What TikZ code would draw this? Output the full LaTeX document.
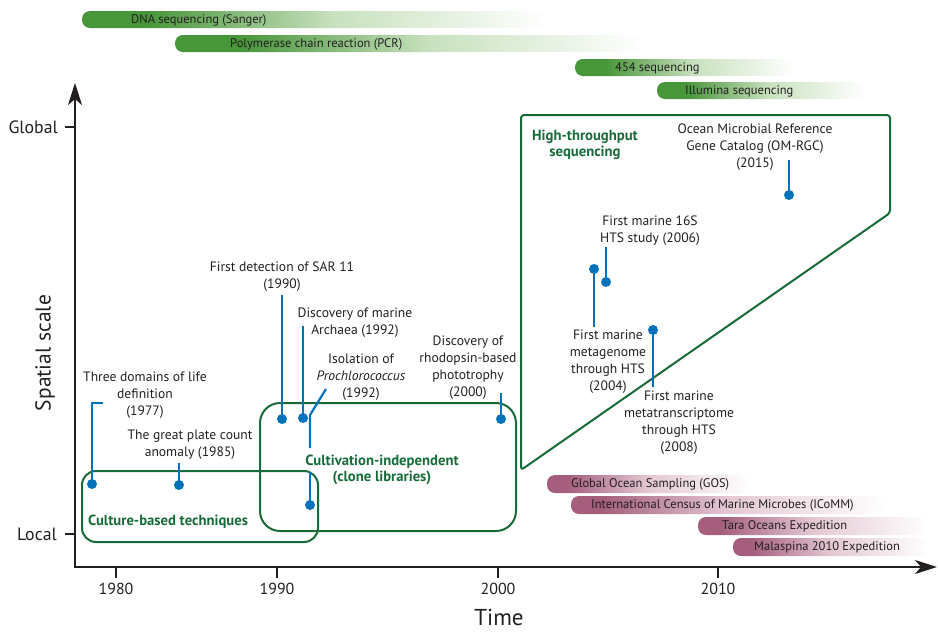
\documentclass[tikz,border=0pt]{standalone}
\usepackage{fontspec}
\setmainfont{PT Sans}
\usetikzlibrary{arrows.meta}
\definecolor{axisc}{RGB}{35,31,32}
\definecolor{dotblue}{RGB}{0,114,188}
\definecolor{boxgreen}{RGB}{22,107,56}
\definecolor{barg}{RGB}{72,150,58}
\definecolor{barglight}{RGB}{200,225,190}
\definecolor{barm}{RGB}{165,95,125}
\definecolor{barmlight}{RGB}{228,200,212}
\pgfdeclarehorizontalshading{gfade}{100bp}{color(0bp)=(barg); color(25bp)=(barg); color(32bp)=(barg); color(52bp)=(barglight); color(75bp)=(white); color(100bp)=(white)}
\pgfdeclarehorizontalshading{mfade}{100bp}{color(0bp)=(barm); color(25bp)=(barm); color(30bp)=(barm); color(50bp)=(barmlight); color(75bp)=(white); color(100bp)=(white)}
\begin{document}
\begin{tikzpicture}[x=1pt,y=-1pt,
  axisline/.style={draw=axisc, line width=2pt},
  ticklbl/.style={font=\fontsize{16}{18}\selectfont, text=axisc, inner sep=0pt},
  ann/.style={font=\fontsize{13.6}{17}\selectfont, align=center, inner sep=0pt, text=axisc},
  grp/.style={draw=boxgreen, line width=2pt},
  grplbl/.style={font=\fontsize{14.7}{16.5}\selectfont\bfseries, text=boxgreen, align=center, inner sep=0pt},
  stem/.style={draw=dotblue, line width=2.2pt},
  dot/.style={circle, fill=dotblue, inner sep=0pt, minimum size=10pt},
  bartext/.style={font=\fontsize{12.5}{13}\selectfont, text=axisc, inner sep=0pt, anchor=west},
  gbar/.style={shading=gfade, rounded corners=8pt},
  mbar/.style={shading=mfade, rounded corners=8pt}]
\useasboundingbox (0,0) rectangle (938,633);

% ---- top technology bars ----
\shade[gbar] (82,11) rectangle (548,28);
\node[bartext] (dna) at (131,20) {DNA sequencing (Sanger)};
\shade[gbar] (175,35) rectangle (645,52);
\node[bartext] (pcr) at (230,44) {Polymerase chain reaction (PCR)};
\shade[gbar] (575,59) rectangle (795,76);
\node[bartext] (s454) at (615,68) {454 sequencing};
\shade[gbar] (657,82) rectangle (865,99);
\node[bartext] (illu) at (685,91) {Illumina sequencing};

% ---- bottom expedition bars ----
\shade[mbar] (547,475) rectangle (750,493);
\node[bartext] (gos) at (571,484) {Global Ocean Sampling (GOS)};
\shade[mbar] (571,496) rectangle (885,514);
\node[bartext] (icomm) at (591,505) {International Census of Marine Microbes (ICoMM)};
\shade[mbar] (698,517) rectangle (928,535);
\node[bartext] (tara) at (722,526) {Tara Oceans Expedition};
\shade[mbar] (733,538) rectangle (928,556);
\node[bartext] (mala) at (754,547) {Malaspina 2010 Expedition};

% ---- axes ----
\coordinate (ytip) at (75,83);
\coordinate (origin) at (75,567);
\coordinate (xtip) at (937,567);
\draw[axisline, {Stealth[length=22pt,width=14pt,inset=6pt]}-{Stealth[length=22pt,width=14pt,inset=6pt]}] (ytip) -- (origin) -- (xtip);
\coordinate (gt) at (65,127);
\coordinate (gt2) at (75,127);
\draw[axisline] (gt) -- (gt2);
\node[font=\fontsize{17.8}{20}\selectfont, text=axisc, anchor=east, inner sep=0pt] (global) at (58,127) {Global};
\coordinate (lt) at (65,534);
\coordinate (lt2) at (75,534);
\draw[axisline] (lt) -- (lt2);
\node[font=\fontsize{17.8}{20}\selectfont, text=axisc, anchor=east, inner sep=0pt] (local) at (57,534) {Local};
\node[font=\fontsize{21.5}{24}\selectfont, text=axisc, rotate=90, inner sep=0pt] (spatial) at (45,353) {Spatial scale};
\node[font=\fontsize{23}{25}\selectfont, text=axisc, inner sep=0pt] (time) at (499,617) {Time};
\foreach \xx/\yr in {116/1980,277/1990,498/2000,718/2010}{
  \draw[axisline] (\xx,567) -- (\xx,578);
  \node[ticklbl] (y\yr) at (\xx,589) {\yr};
}

% ---- group outlines ----
\draw[grp, rounded corners=14pt] (82,471) rectangle (318,542);
\draw[grp, rounded corners=20pt] (260,403) rectangle (516,531);
\draw[grp, rounded corners=3pt] (521,115) -- (890,115) -- (890,213) -- (521,470) -- cycle;
\node[grplbl] (culture) at (168,522) {Culture-based techniques};
\node[grplbl] (cultind) at (382,470) {Cultivation-independent\\(clone libraries)};
\node[grplbl] (hts) at (585,145) {High-throughput\\sequencing};

% ---- events ----
\node[ann] (t1) at (145,395) {Three domains of life\\definition\\(1977)};
\node[dot] (d1) at (92,484) {};
\coordinate (h1) at (103,403);
\coordinate (s1) at (92,403);
\draw[stem] (h1) -- (s1) -- (d1.center);

\node[ann] (t2) at (190,445) {The great plate count\\anomaly (1985)};
\node[dot] (d2) at (179,485) {};
\coordinate (s2) at (179,463);
\draw[stem] (s2) -- (d2.center);

\node[ann] (t3) at (282,277) {First detection of SAR 11\\(1990)};
\node[dot] (d3) at (282,419) {};
\coordinate (s3) at (282,295);
\draw[stem] (s3) -- (d3.center);

\node[ann] (t4) at (355,323) {Discovery of marine\\Archaea (1992)};
\node[dot] (d4) at (303,418) {};
\coordinate (s4) at (303,326);
\draw[stem] (s4) -- (d4.center);

\node[ann] (t5) at (361,377) {Isolation of\\\textit{Prochlorococcus}\\(1992)};
\node[dot] (d5) at (310,505) {};
\coordinate (p1) at (326,389);
\coordinate (p2) at (310,415);
\coordinate (p3) at (310,448);
\coordinate (p4) at (310,472);
\draw[stem] (p1) -- (p2) -- (p3);
\draw[stem] (p4) -- (d5.center);

\node[ann] (t6) at (468,368) {Discovery of\\rhodopsin-based\\phototrophy\\(2000)};
\node[dot] (d6) at (501,419) {};
\coordinate (s6) at (501,393);
\draw[stem] (s6) -- (d6.center);

\node[ann] (t7) at (608,362) {First marine\\metagenome\\through HTS\\(2004)};
\node[dot] (d7) at (594,269) {};
\coordinate (s7) at (594,327);
\draw[stem] (d7.center) -- (s7);

\node[ann] (t8) at (650,231) {First marine 16S\\HTS study (2006)};
\node[dot] (d8) at (606,282) {};
\coordinate (s8) at (606,247);
\draw[stem] (s8) -- (d8.center);

\node[ann] (t9) at (679,423) {First marine\\metatranscriptome\\through HTS\\(2008)};
\node[dot] (d9) at (653,330) {};
\coordinate (s9) at (653,387);
\draw[stem] (d9.center) -- (s9);

\node[ann] (t10) at (755,147) {Ocean Microbial Reference\\Gene Catalog (OM-RGC)\\(2015)};
\node[dot] (d10) at (789,195) {};
\coordinate (s10) at (789,160);
\draw[stem] (s10) -- (d10.center);
\end{tikzpicture}
\end{document}
